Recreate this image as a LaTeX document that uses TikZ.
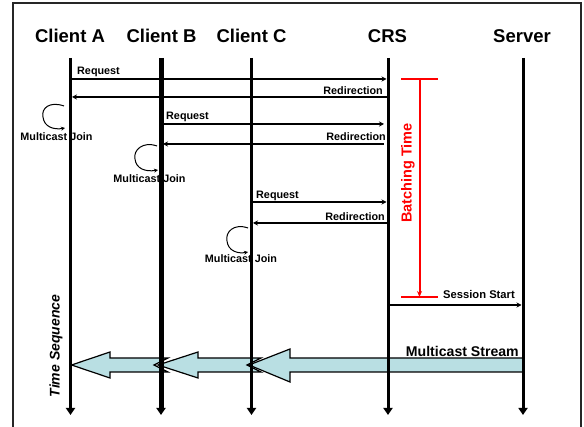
\documentclass[tikz,border=0pt]{standalone}
\usepackage{fontspec}
\setmainfont{Liberation Sans}
\usetikzlibrary{arrows.meta}
\definecolor{streamcol}{RGB}{185,223,227}
\begin{document}
\begin{tikzpicture}[x=1pt,y=1pt,
  hdr/.style={font=\fontsize{18.5}{20}\selectfont\bfseries, inner sep=0, anchor=base},
  lbl/.style={font=\fontsize{10.8}{12}\selectfont\bfseries, inner sep=0},
  life/.style={line width=3pt, -{Triangle[length=7pt,width=9pt]}},
  msg/.style={line width=2pt, -{Stealth[length=5pt,width=5pt]}},
  msgb/.style={line width=2.8pt, -{Stealth[length=5pt,width=5pt]}},
  joinloop/.style={line width=1pt, -{Stealth[length=4pt,width=4pt]}},
  blockarrow/.style={draw=black, line width=1.2pt, fill=streamcol, line join=miter}]
\useasboundingbox (0,0) rectangle (584,-427);
% frame
\draw[line width=1.3pt, black!85] (13,-440) -- (13,-3) -- (581,-3) -- (581,-440);

% headers
\node[hdr] (hA) at (70,-43) {Client A};
\node[hdr] (hB) at (161.5,-43) {Client B};
\node[hdr] (hC) at (251.5,-43) {Client C};
\node[hdr] (hR) at (387.5,-43) {CRS};
\node[hdr] (hS) at (522,-43) {Server};

% lifeline ends
\coordinate (tA) at (70.5,-58);   \coordinate (bA) at (70.5,-415);
\coordinate (tB) at (161,-58);    \coordinate (bB) at (161,-415);
\coordinate (tC) at (251.5,-58);  \coordinate (bC) at (251.5,-415);
\coordinate (tR) at (388,-58);    \coordinate (bR) at (388,-415);
\coordinate (tS) at (523,-58);    \coordinate (bS) at (523,-415);

% message levels
\coordinate (m1) at (0,-79);
\coordinate (m2) at (0,-97);
\coordinate (m3) at (0,-124);
\coordinate (m4) at (0,-144);
\coordinate (m5) at (0,-202);
\coordinate (m6) at (0,-223);
\coordinate (m7) at (0,-305);

% block arrows (multicast stream), drawn under lifelines
\coordinate (s3) at (523,-365);
\draw[blockarrow] (s3 |- 0,-358) -- (290,-358) -- (290,-349) -- (249,-365) -- (290,-382) -- (290,-372) -- (s3 |- 0,-372) -- cycle;
\draw[blockarrow] (261,-358) -- (198,-358) -- (198,-352) -- (158,-365) -- (198,-378) -- (198,-372) -- (261,-372) -- (247,-365) -- cycle;
\draw[blockarrow] (168,-358) -- (110,-358) -- (110,-352) -- (71.5,-365) -- (110,-378) -- (110,-372) -- (168,-372) -- (154,-365) -- cycle;

% lifelines
\draw[life] (tA) -- (bA);
\draw[life, line width=5pt] (tB) -- (bB);
\draw[life] (tC) -- (bC);
\draw[life] (tR) -- (bR);
\draw[life] (tS) -- (bS);

% messages
\draw[msg, shorten >=1.5pt] (tA |- m1) -- (tR |- m1);
\node[lbl, anchor=base west] (l1) at (77,-74.5) {Request};
\draw[msg, shorten >=1.5pt] (tR |- m2) -- (tA |- m2);
\node[lbl, anchor=base east] (l2) at (383,-94.5) {Redirection};

\draw[msgb, shorten >=4pt] (tB |- m3) -- (tR |- m3);
\node[lbl, anchor=base west] (l3) at (166,-119.5) {Request};
\draw[msgb, shorten >=2pt, shorten <=4pt] (tR |- m4) -- (tB |- m4);
\node[lbl, anchor=base east] (l4) at (386,-141) {Redirection};

\draw[msg, shorten >=1.5pt] (tC |- m5) -- (tR |- m5);
\node[lbl, anchor=base west] (l5) at (256,-199) {Request};
\draw[msg, shorten >=1.5pt] (tR |- m6) -- (tC |- m6);
\node[lbl, anchor=base east] (l6) at (385,-220.5) {Redirection};

\draw[msg, shorten >=1.5pt] (tR |- m7) -- (tS |- m7);
\node[lbl, anchor=base west, font=\fontsize{11.2}{12}\selectfont\bfseries] (l7) at (443,-299) {Session Start};

% multicast joins
\coordinate (jA1) at (64,-106); \coordinate (jA2) at (65,-128);
\draw[joinloop] (jA1) .. controls (50,-101) and (41,-108) .. (43,-117) .. controls (44,-127) and (54,-130) .. (jA2);
\node[lbl, anchor=base] (jlA) at (56.5,-140.5) {Multicast Join};

\coordinate (jB1) at (157,-146); \coordinate (jB2) at (158,-170);
\draw[joinloop] (jB1) .. controls (143,-141) and (133,-150) .. (135,-159) .. controls (136,-169) and (146,-172) .. (jB2);
\node[lbl, anchor=base] (jlB) at (149.5,-182.5) {Multicast Join};

\coordinate (jC1) at (248,-228); \coordinate (jC2) at (248,-252);
\draw[joinloop] (jC1) .. controls (234,-223) and (225,-232) .. (227,-241) .. controls (228,-251) and (238,-254) .. (jC2);
\node[lbl, anchor=base] (jlC) at (241,-263) {Multicast Join};

% batching time
\coordinate (bt1) at (419.5,-79);
\coordinate (bt2) at (419.5,-297);
\draw[red, line width=2pt, -{Stealth[length=6pt,width=5pt]}] (bt1) -- (bt2);
\draw[red, line width=2pt] (401,-79) -- (438,-79);
\draw[red, line width=2pt] (401,-297) -- (438,-297);
\node[rotate=90, red, inner sep=0, font=\fontsize{14.5}{16}\selectfont\bfseries] (btl) at (408,-173) {Batching Time};

% other labels
\node[rotate=90, inner sep=0, font=\fontsize{14}{16}\selectfont\bfseries\itshape] (tsq) at (56,-346) {Time Sequence};
\node[anchor=base east, inner sep=0, font=\fontsize{14.1}{16}\selectfont\bfseries] (msl) at (519,-357) {Multicast Stream};
\end{tikzpicture}
\end{document}
